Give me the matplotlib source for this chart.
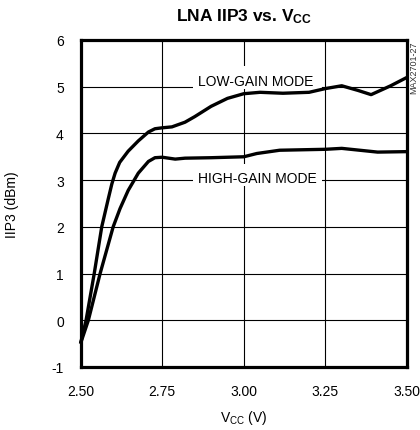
import matplotlib
matplotlib.use("Agg")
import matplotlib.pyplot as plt
from matplotlib.patches import Rectangle

plt.rcParams["font.family"] = ["Liberation Sans", "DejaVu Sans"]
plt.rcParams["mathtext.fontset"] = "custom"
plt.rcParams["mathtext.rm"] = "Liberation Sans"
plt.rcParams["mathtext.bf"] = "Liberation Sans:bold"
plt.rcParams["axes.unicode_minus"] = False

# LNA IIP3 vs VCC
vcc_low  = [2.50, 2.517, 2.542, 2.565, 2.585, 2.596, 2.606, 2.62, 2.646, 2.677, 2.708,
            2.728, 2.75, 2.78, 2.82, 2.85, 2.90, 2.95, 3.00, 3.05, 3.12, 3.20, 3.25,
            3.30, 3.35, 3.39, 3.45, 3.50]
iip3_low = [-0.5, 0.0, 1.0, 2.0, 2.6, 2.92, 3.15, 3.38, 3.62, 3.84, 4.03,
            4.10, 4.12, 4.14, 4.24, 4.36, 4.58, 4.75, 4.85, 4.88, 4.86, 4.88, 4.96,
            5.02, 4.92, 4.83, 5.02, 5.20]

vcc_high  = [2.50, 2.524, 2.56, 2.60, 2.621, 2.646, 2.677, 2.708, 2.728, 2.75,
             2.79, 2.82, 2.90, 3.00, 3.04, 3.11, 3.25, 3.30, 3.41, 3.50]
iip3_high = [-0.5, 0.0, 1.0, 2.0, 2.39, 2.78, 3.15, 3.40, 3.48, 3.49,
             3.45, 3.47, 3.48, 3.50, 3.57, 3.64, 3.66, 3.68, 3.60, 3.61]

xticks = [2.50, 2.75, 3.00, 3.25, 3.50]
xtick_labels = ["2.50", "2.75", "3.00", "3.25", "3.50"]
yticks = [-1, 0, 1, 2, 3, 4, 5, 6]

fig = plt.figure(figsize=(4.2, 4.31), dpi=100)
ax = fig.add_axes([0.1917, 0.1462, 0.7774, 0.7587])

ax.set_xlim(2.5, 3.5)
ax.set_ylim(-1, 6)
ax.set_xticks(xticks)
ax.set_xticklabels(xtick_labels)
ax.set_yticks(yticks)
ax.tick_params(length=0, labelsize=10, colors="black")
ax.tick_params(axis="y", pad=12)
ax.tick_params(axis="x", pad=12)
ax.grid(True, color="black", linewidth=0.8, zorder=1)
ax.set_axisbelow(True)
for s in ax.spines.values():
    s.set_linewidth(2.3)

# white boxes behind the labels, hiding the grid
ax.add_patch(Rectangle((2.845, 4.95), 0.395, 0.50, facecolor="white",
                       edgecolor="none", zorder=2))
ax.add_patch(Rectangle((2.845, 2.88), 0.395, 0.47, facecolor="white",
                       edgecolor="none", zorder=2))
ax.text(2.86, 5.04, "LOW-GAIN MODE", fontsize=10, va="baseline", ha="left", zorder=3)
ax.text(2.86, 2.97, "HIGH-GAIN MODE", fontsize=10, va="baseline", ha="left", zorder=3)

ax.plot(vcc_low, iip3_low, color="black", linewidth=2.4, zorder=4, clip_on=False,
        solid_capstyle="butt", solid_joinstyle="round")
ax.plot(vcc_high, iip3_high, color="black", linewidth=2.4, zorder=4, clip_on=False,
        solid_capstyle="butt", solid_joinstyle="round")

fig.text(0.581, 0.951, r"LNA IIP3 vs. $\mathbf{V_{CC}}$", fontsize=12.5,
         fontweight="bold", ha="center", va="baseline")
fig.text(0.581, 0.021, r"$\mathrm{V_{CC}}$ (V)", fontsize=10, ha="center", va="baseline")
fig.text(0.029, 0.525, "IIP3 (dBm)", fontsize=10, rotation=90, ha="center", va="center")
fig.text(0.985, 0.842, "MAX2701-27", fontsize=6.5, rotation=90, ha="center",
         va="center", color="#333333")

plt.savefig("out.png", dpi=100)
plt.close()
